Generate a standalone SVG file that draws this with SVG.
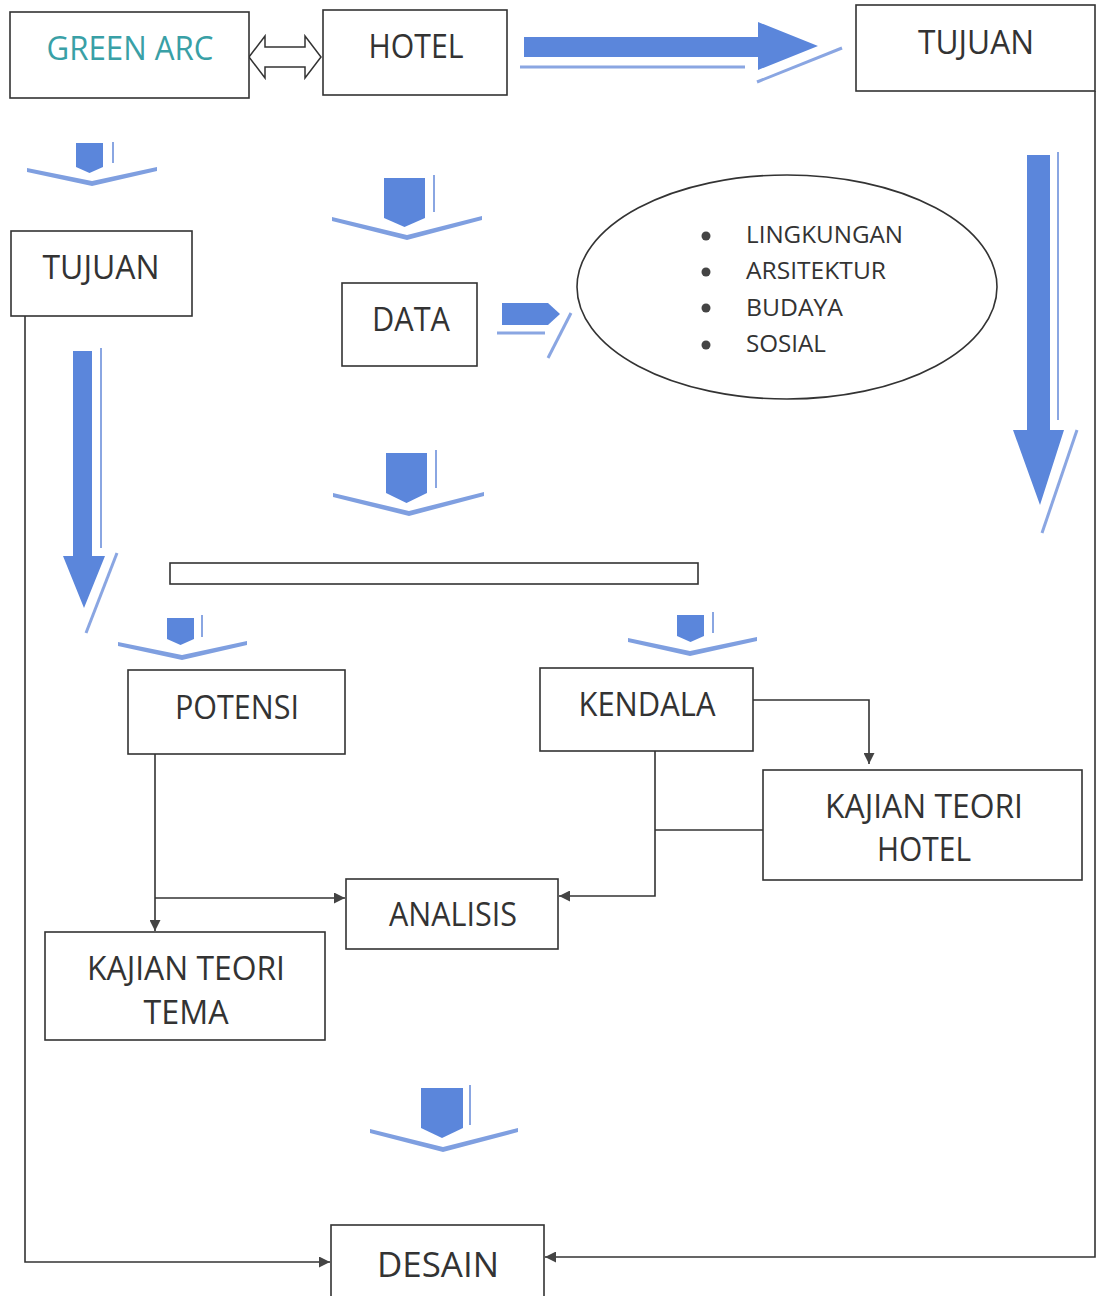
<svg xmlns="http://www.w3.org/2000/svg" width="1100" height="1296" viewBox="0 0 1100 1296">
  <style>
    .box { fill: #ffffff; stroke: #333333; stroke-width: 1.6; }
    .lbl { font-family: "Open Sans", "Liberation Sans", sans-serif; fill: #333333; text-anchor: middle; font-size: 32px; }
    .item { font-family: "Open Sans", "Liberation Sans", sans-serif; fill: #333333; font-size: 24px; }
    .blk { fill: #5b86db; }
    .chev { fill: #7f9fe0; }
    .shd { fill: none; stroke: #8aa6e2; stroke-width: 3; }
    .thin { fill: none; stroke: #8aa6e2; stroke-width: 2; }
    .conn { fill: none; stroke: #333333; stroke-width: 1.6; }
  </style>
  <defs>
    <marker id="tip" viewBox="0 0 10 10" markerWidth="11" markerHeight="11" markerUnits="userSpaceOnUse" refX="10" refY="5" orient="auto">
      <path d="M0,0 L10,5 L0,10 z" fill="#444444"/>
    </marker>
  </defs>
  <rect width="1100" height="1296" fill="#ffffff"/>

  <!-- connectors -->
  <g id="connectors">
    <path class="conn" d="M25,316 V1262 H330" marker-end="url(#tip)"/>
    <path class="conn" d="M1095,91 V1257 H545" marker-end="url(#tip)"/>
    <path class="conn" d="M155,754 V931" marker-end="url(#tip)"/>
    <path class="conn" d="M155,898 H345" marker-end="url(#tip)"/>
    <path class="conn" d="M753,700 H869 V764" marker-end="url(#tip)"/>
    <path class="conn" d="M655,751 V896 H559" marker-end="url(#tip)"/>
    <path class="conn" d="M655,830 H763"/>

    <!-- hollow double arrow GREEN ARC / HOTEL -->
    <path d="M249,57 L265,36 L265,47 L305,47 L305,36 L321,57 L305,78 L305,67 L265,67 L265,78 Z" fill="#ffffff" stroke="#333333" stroke-width="1.5"/>

    <!-- block arrow HOTEL to TUJUAN -->
    <polygon class="blk" points="524,37 758,37 758,22 818,46 758,70 758,57 524,57"/>
    <line class="shd" x1="520" y1="67" x2="745" y2="67"/>
    <line class="shd" x1="757" y1="82" x2="842" y2="48"/>

    <!-- block arrow down on the left -->
    <polygon class="blk" points="73,351 92,351 92,556 105,556 84,608 63,556 73,556"/>
    <line class="thin" x1="101" y1="348" x2="101" y2="548"/>
    <line class="shd" x1="117" y1="553" x2="86" y2="633"/>

    <!-- block arrow down on the right -->
    <polygon class="blk" points="1027,155 1050,155 1050,430 1064,430 1040,505 1013,430 1027,430"/>
    <line class="thin" x1="1058" y1="152" x2="1058" y2="420"/>
    <line class="shd" x1="1077" y1="430" x2="1042" y2="533"/>

    <!-- DATA to ellipse -->
    <polygon class="blk" points="502,303 548,303 560,314 548,325 502,325"/>
    <line class="shd" x1="497" y1="333" x2="545" y2="333"/>
    <line class="shd" x1="571" y1="313" x2="548" y2="358"/>

    <!-- chevron arrows -->
    <g id="chev-1">
      <polygon class="blk" points="76,143 103,143 103,167 89.5,173 76,167"/>
      <line class="thin" x1="113" y1="142" x2="113" y2="163"/>
      <polygon class="chev" points="27,168 92,181 157,167 157,171 92,186 27,172"/>
    </g>
    <g id="chev-2">
      <polygon class="blk" points="384,178 425,178 425,218 404.5,227 384,218"/>
      <line class="thin" x1="434" y1="175" x2="434" y2="212"/>
      <polygon class="chev" points="332,217 407,235 482,216 482,220 407,240 332,221"/>
    </g>
    <g id="chev-3">
      <polygon class="blk" points="386,453 427,453 427,493 406.5,503 386,493"/>
      <line class="thin" x1="436" y1="450" x2="436" y2="488"/>
      <polygon class="chev" points="333,493 409,511 484,492 484,496 409,516 333,497"/>
    </g>
    <g id="chev-4">
      <polygon class="blk" points="677,615 704,615 704,636 690.5,642 677,636"/>
      <line class="thin" x1="713" y1="612" x2="713" y2="633"/>
      <polygon class="chev" points="628,638 690,651 757,637 757,641 690,656 628,642"/>
    </g>
    <g id="chev-5">
      <polygon class="blk" points="167,618 194,618 194,639 180.5,645 167,639"/>
      <line class="thin" x1="202" y1="615" x2="202" y2="637"/>
      <polygon class="chev" points="118,642 182,655 247,641 247,645 182,660 118,646"/>
    </g>
    <g id="chev-6">
      <polygon class="blk" points="421,1088 463,1088 463,1128 442,1138 421,1128"/>
      <line class="thin" x1="470" y1="1085" x2="470" y2="1125"/>
      <polygon class="chev" points="370,1129 443,1147 518,1128 518,1132 443,1152 370,1133"/>
    </g>
  </g>

  <!-- nodes -->
  <g id="green-arc">
    <rect class="box" x="10" y="12" width="239" height="86"/>
    <text class="lbl" x="130" y="60" fill="#39a0a6" style="fill:#39a0a6" textLength="167" lengthAdjust="spacingAndGlyphs">GREEN ARC</text>
  </g>
  <g id="hotel">
    <rect class="box" x="323" y="10" width="184" height="85"/>
    <text class="lbl" x="416" y="58" textLength="95" lengthAdjust="spacingAndGlyphs">HOTEL</text>
  </g>
  <g id="tujuan-main">
    <rect class="box" x="856" y="5" width="239" height="86"/>
    <text class="lbl" x="976" y="54" textLength="116" lengthAdjust="spacingAndGlyphs">TUJUAN</text>
  </g>
  <g id="tujuan-left">
    <rect class="box" x="11" y="231" width="181" height="85"/>
    <text class="lbl" x="101" y="279" textLength="117" lengthAdjust="spacingAndGlyphs">TUJUAN</text>
  </g>
  <g id="data">
    <rect class="box" x="342" y="283" width="135" height="83"/>
    <text class="lbl" x="411" y="331" textLength="78" lengthAdjust="spacingAndGlyphs">DATA</text>
  </g>
  <g id="aspek">
    <ellipse cx="787" cy="287" rx="210" ry="112" fill="#ffffff" stroke="#333333" stroke-width="1.6"/>
    <circle cx="706" cy="236" r="4.5" fill="#444444"/>
    <circle cx="706" cy="272" r="4.5" fill="#444444"/>
    <circle cx="706" cy="308" r="4.5" fill="#444444"/>
    <circle cx="706" cy="345" r="4.5" fill="#444444"/>
    <text class="item" x="746" y="243" textLength="157" lengthAdjust="spacingAndGlyphs">LINGKUNGAN</text>
    <text class="item" x="746" y="279" textLength="140" lengthAdjust="spacingAndGlyphs">ARSITEKTUR</text>
    <text class="item" x="746" y="316" textLength="97" lengthAdjust="spacingAndGlyphs">BUDAYA</text>
    <text class="item" x="746" y="352" textLength="80" lengthAdjust="spacingAndGlyphs">SOSIAL</text>
  </g>
  <g id="bar">
    <rect class="box" x="170" y="563" width="528" height="21"/>
  </g>
  <g id="potensi">
    <rect class="box" x="128" y="670" width="217" height="84"/>
    <text class="lbl" x="237" y="719" textLength="124" lengthAdjust="spacingAndGlyphs">POTENSI</text>
  </g>
  <g id="kendala">
    <rect class="box" x="540" y="668" width="213" height="83"/>
    <text class="lbl" x="647" y="716" textLength="137" lengthAdjust="spacingAndGlyphs">KENDALA</text>
  </g>
  <g id="kajian-hotel">
    <rect class="box" x="763" y="770" width="319" height="110"/>
    <text class="lbl" x="924" y="818" textLength="198" lengthAdjust="spacingAndGlyphs">KAJIAN TEORI</text>
    <text class="lbl" x="924" y="861" textLength="94" lengthAdjust="spacingAndGlyphs">HOTEL</text>
  </g>
  <g id="analisis">
    <rect class="box" x="346" y="879" width="212" height="70"/>
    <text class="lbl" x="453" y="926" textLength="128" lengthAdjust="spacingAndGlyphs">ANALISIS</text>
  </g>
  <g id="kajian-tema">
    <rect class="box" x="45" y="932" width="280" height="108"/>
    <text class="lbl" x="186" y="980" textLength="198" lengthAdjust="spacingAndGlyphs">KAJIAN TEORI</text>
    <text class="lbl" x="186" y="1024" textLength="85" lengthAdjust="spacingAndGlyphs">TEMA</text>
  </g>
  <g id="desain">
    <rect class="box" x="331" y="1225" width="213" height="80"/>
    <text class="lbl" x="438" y="1277" style="font-size:34px" textLength="122" lengthAdjust="spacingAndGlyphs">DESAIN</text>
  </g>
</svg>
